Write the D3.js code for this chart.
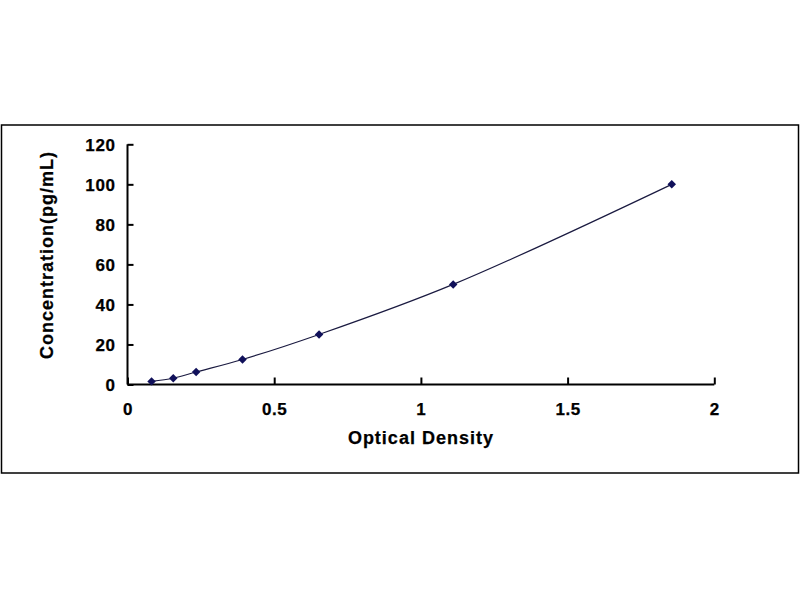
<!DOCTYPE html>
<html>
<head>
<meta charset="utf-8">
<script src="https://cdn.jsdelivr.net/npm/d3@7"></script>
<style>
  html, body { margin: 0; padding: 0; background: #ffffff; }
  svg { display: block; }
  text { font-family: "Liberation Sans", Arial, sans-serif; font-weight: bold; fill: #000; stroke: #000; stroke-width: 0.25px; }
</style>
</head>
<body>
<svg id="chart" width="800" height="600"></svg>
<script>
// Data
const opticalDensity = [0.082, 0.156, 0.234, 0.392, 0.653, 1.110, 1.855];
const concentration  = [1.56, 3.12, 6.25, 12.5, 25, 50, 100];
const xTicks = [0, 0.5, 1, 1.5, 2];
const yTicks = [0, 20, 40, 60, 80, 100, 120];
const xTitle = "Optical Density";
const yTitle = "Concentration(pg/mL)";

const points = opticalDensity.map((d, i) => ({ x: d, y: concentration[i] }));

const svg = d3.select("#chart");

// outer frame
svg.append("rect")
  .attr("x", 1.5).attr("y", 125)
  .attr("width", 797).attr("height", 348)
  .attr("fill", "#fff").attr("stroke", "#000").attr("stroke-width", 1.5);

const x = d3.scaleLinear().domain([0, 2]).range([127.5, 714.3]);
const y = d3.scaleLinear().domain([0, 120]).range([384.5, 144.3]);

// X axis
const xAxis = svg.append("g").attr("transform", `translate(0,${y(0)})`)
  .call(d3.axisBottom(x).tickValues(xTicks).tickSize(0).tickPadding(0).tickFormat(d3.format("")));
xAxis.select(".domain").attr("stroke", "#000").attr("stroke-width", 2).attr("d", `M${x(0)},0H${x(2)}`);
xAxis.selectAll(".tick line").remove();
xAxis.selectAll(".tick").append("line")
  .attr("y1", 0).attr("y2", -7).attr("stroke", "#000").attr("stroke-width", 2);
xAxis.selectAll(".tick text")
  .attr("y", 30.5).attr("dy", null)
  .style("font-size", "17px").style("letter-spacing", "0.6px")
  .attr("fill", "#000");

// Y axis
const yAxis = svg.append("g").attr("transform", `translate(${x(0)},0)`)
  .call(d3.axisLeft(y).tickValues(yTicks).tickSize(0).tickPadding(0));
yAxis.select(".domain").attr("stroke", "#000").attr("stroke-width", 2).attr("d", `M0,${y(0)}V${y(120)}`);
yAxis.selectAll(".tick line").remove();
yAxis.selectAll(".tick").append("line")
  .attr("x1", 0).attr("x2", 6).attr("stroke", "#000").attr("stroke-width", 2);
yAxis.selectAll(".tick text")
  .attr("x", -12).attr("dy", "0.36em")
  .style("font-size", "17px").style("letter-spacing", "0.6px")
  .attr("fill", "#000");

// Curve
const line = d3.line()
  .x(d => x(d.x)).y(d => y(d.y))
  .curve(d3.curveCatmullRom.alpha(0.5));
svg.append("path")
  .datum(points)
  .attr("d", line)
  .attr("fill", "none")
  .attr("stroke", "#1a1a40")
  .attr("stroke-width", 1.2);

// Markers (diamonds)
svg.append("g").selectAll("path")
  .data(points)
  .join("path")
  .attr("transform", d => `translate(${x(d.x)},${y(d.y)}) rotate(45)`)
  .attr("d", "M-3,-3H3V3H-3Z")
  .attr("fill", "#10105a");

// Axis titles
svg.append("text")
  .attr("x", (x(0) + x(2)) / 2).attr("y", 444)
  .attr("text-anchor", "middle")
  .style("font-size", "18px").style("letter-spacing", "1px")
  .text(xTitle);

svg.append("text")
  .attr("transform", `translate(53,255) rotate(-90)`)
  .attr("text-anchor", "middle")
  .style("font-size", "18px").style("letter-spacing", "1px")
  .text(yTitle);
</script>
</body>
</html>
